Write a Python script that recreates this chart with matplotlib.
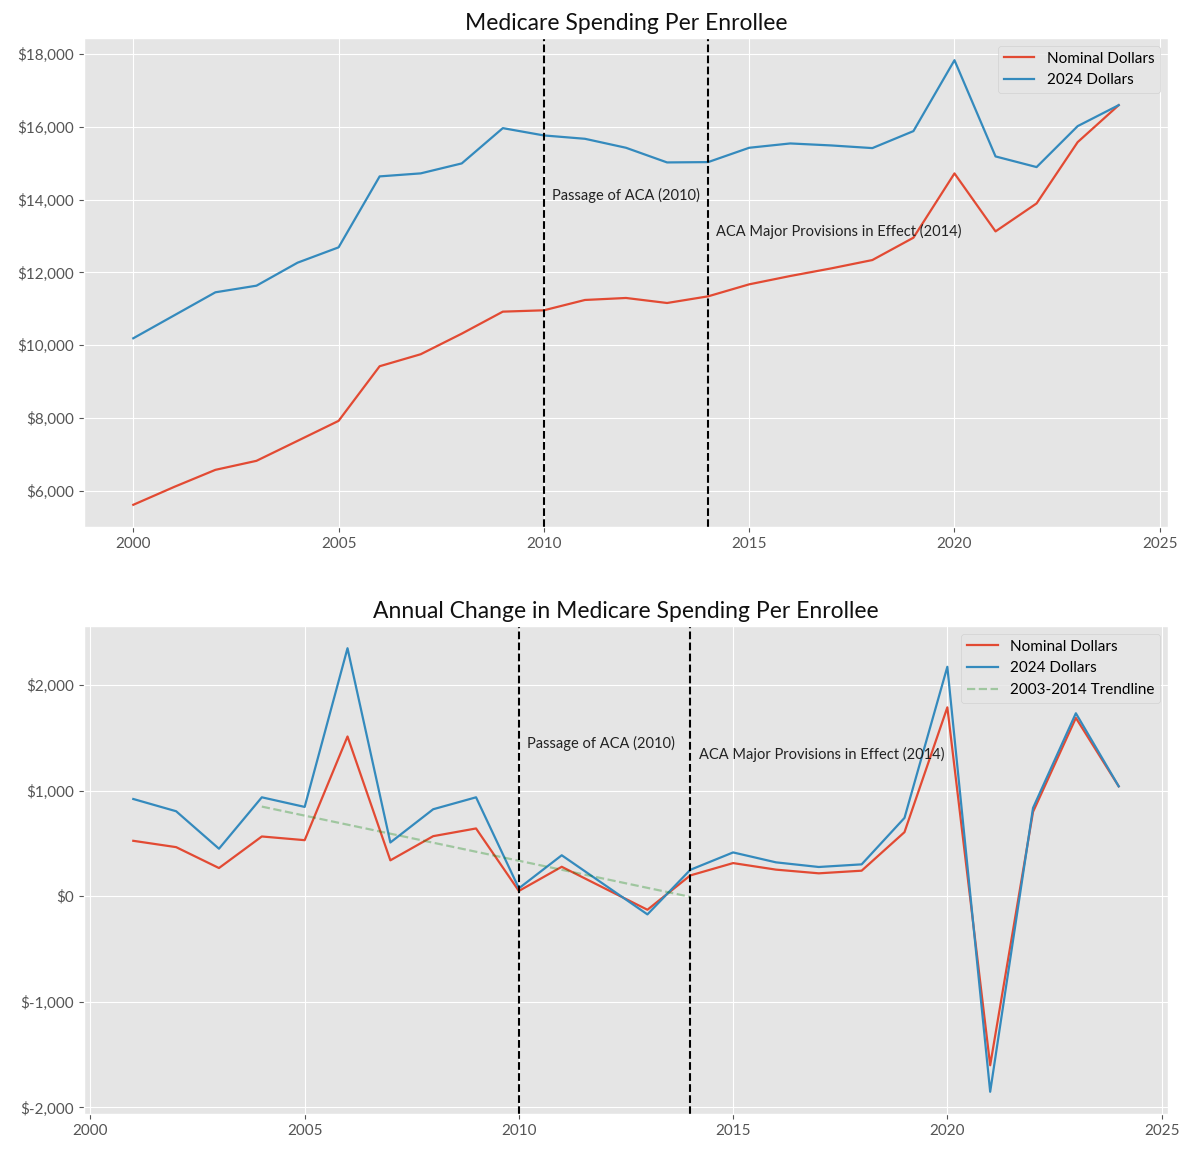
import matplotlib
matplotlib.use("Agg")
import matplotlib.pyplot as plt
from matplotlib.ticker import StrMethodFormatter

plt.style.use("ggplot")
plt.rcParams["font.family"] = ["Lato", "DejaVu Sans"]
plt.rcParams["axes.unicode_minus"] = False

years_level = list(range(2000, 2025))
nominal_level = [5610, 6104, 6571, 6819, 7368, 7918, 9420, 9750, 10316, 10921,
                 10958, 11242, 11297, 11159, 11342, 11672, 11901, 12111, 12340,
                 12954, 14722, 13128, 13897, 15582, 16599]
real_level = [10189, 10821, 11453, 11635, 12267, 12689, 14640, 14723, 14997,
              15967, 15766, 15674, 15427, 15024, 15033, 15427, 15546, 15491,
              15418, 15885, 17835, 15189, 14896, 16022, 16599]

years_change = list(range(2001, 2025))
nominal_change = [525, 465, 267, 566, 531, 1513, 340, 569, 642, 50, 279, 75,
                  -128, 197, 314, 252, 217, 242, 607, 1789, -1601, 799, 1689, 1041]
real_change = [921, 805, 450, 937, 846, 2349, 509, 824, 937, 75, 388, 108,
               -172, 250, 415, 321, 277, 302, 742, 2173, -1852, 836, 1733, 1041]

trend_years = [2004, 2014]
trend_values = [849, -6]

events = [2010, 2014]
event_labels = ["Passage of ACA (2010)", "ACA Major Provisions in Effect (2014)"]
top_label_y = [14000, 13000]
bottom_label_y = [1400, 1300]

fig = plt.figure(figsize=(11.9, 11.54), dpi=100)
ax1 = fig.add_axes([0.0706, 0.5433, 0.9109, 0.4238])
ax2 = fig.add_axes([0.0706, 0.0347, 0.9109, 0.4228])

fmt = StrMethodFormatter("${x:,.0f}")

# Top chart
ax1.plot(years_level, nominal_level, color="#E24A33", lw=1.6, label="Nominal Dollars")
ax1.plot(years_level, real_level, color="#348ABD", lw=1.6, label="2024 Dollars")
for yr, lab, ly in zip(events, event_labels, top_label_y):
    ax1.axvline(yr, color="black", ls="--", lw=1.5)
    ax1.text(yr + 0.2, ly, lab, fontsize=10.5, color="#222222")
ax1.set_title("Medicare Spending Per Enrollee", fontsize=16.5, color="#111111")
ax1.yaxis.set_major_formatter(fmt)
ax1.legend(loc="upper right", fontsize=11)

# Bottom chart
ax2.plot(years_change, nominal_change, color="#E24A33", lw=1.6, label="Nominal Dollars")
ax2.plot(years_change, real_change, color="#348ABD", lw=1.6, label="2024 Dollars")
ax2.plot(trend_years, trend_values, color="green", alpha=0.3, ls="--", lw=1.6,
         label="2003-2014 Trendline")
for yr, lab, ly in zip(events, event_labels, bottom_label_y):
    ax2.axvline(yr, color="black", ls="--", lw=1.5)
    ax2.text(yr + 0.2, ly, lab, fontsize=10.5, color="#222222")
ax2.set_title("Annual Change in Medicare Spending Per Enrollee", fontsize=16.5, color="#111111")
ax2.yaxis.set_major_formatter(fmt)
ax2.legend(loc="upper right", fontsize=11)

for ax in (ax1, ax2):
    ax.tick_params(labelsize=11)

fig.savefig("out.png", dpi=100)
